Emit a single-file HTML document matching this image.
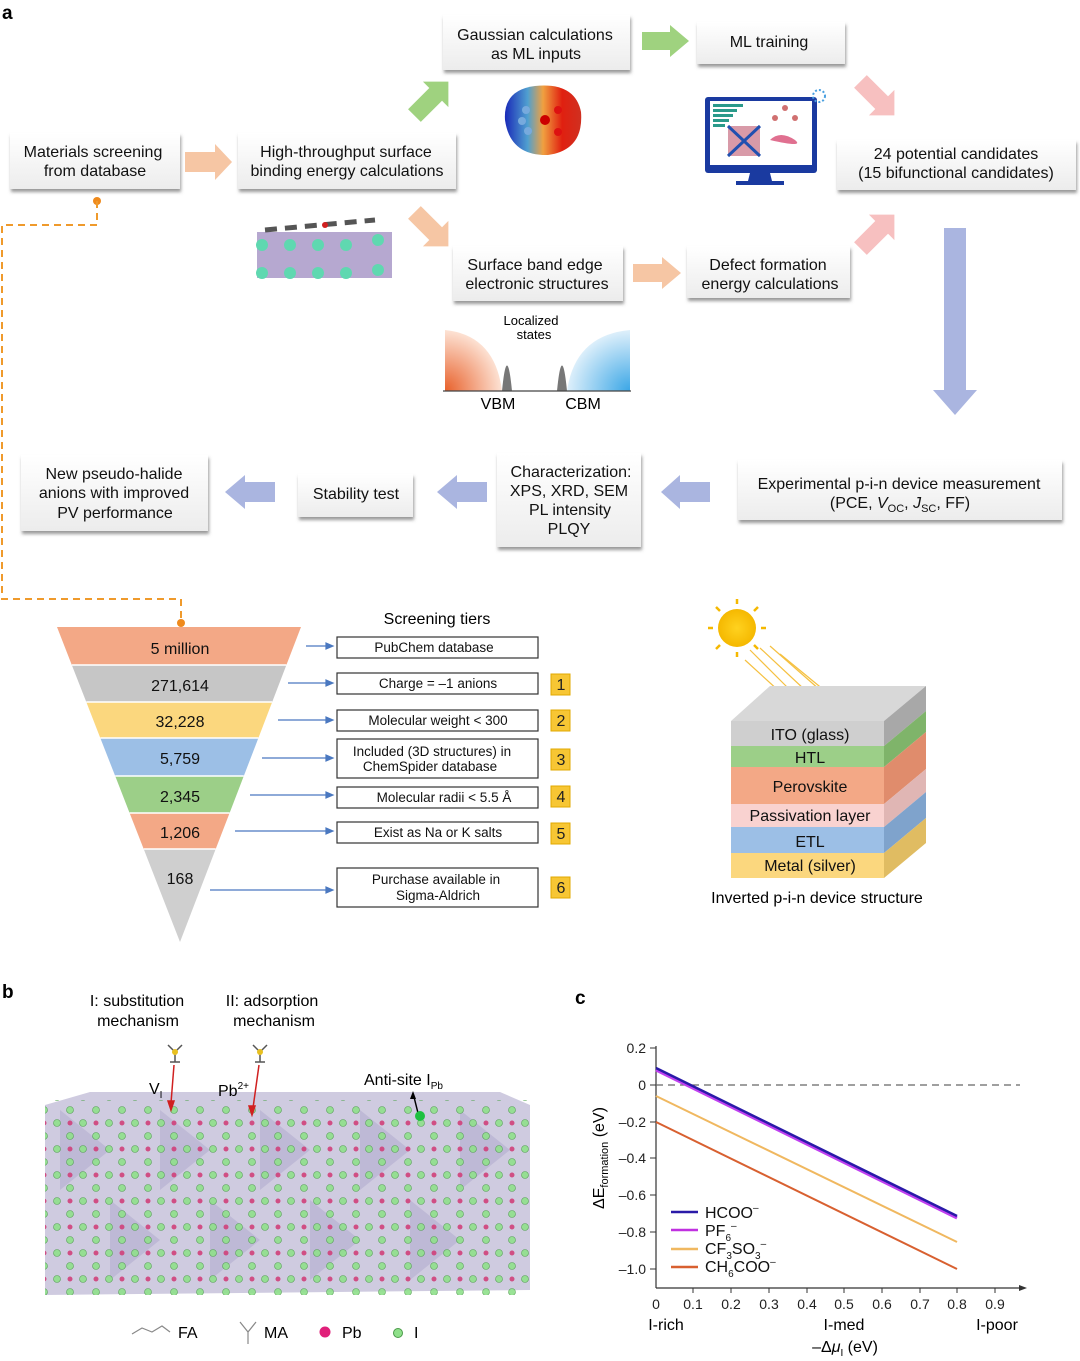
<!DOCTYPE html>
<html><head><meta charset="utf-8">
<style>
html,body{margin:0;padding:0;background:#fff;}
svg{display:block;font-family:"Liberation Sans",sans-serif;}
</style></head><body>
<svg width="1080" height="1361" viewBox="0 0 1080 1361" xmlns="http://www.w3.org/2000/svg">
<defs>
<linearGradient id="bx" x1="0" y1="0" x2="0" y2="1"><stop offset="0" stop-color="#fff"/><stop offset="1" stop-color="#ececec"/></linearGradient>
<filter id="sh" x="-10%" y="-10%" width="120%" height="140%"><feDropShadow dx="1" dy="3" stdDeviation="1.5" flood-color="#555" flood-opacity="0.6"/></filter>
<radialGradient id="vb" cx="0" cy="1" r="1"><stop offset="0" stop-color="#e8602a"/><stop offset="1" stop-color="#fde3d5"/></radialGradient>
<radialGradient id="cb" cx="1" cy="1" r="1"><stop offset="0" stop-color="#3aa6e6"/><stop offset="1" stop-color="#dff0fb"/></radialGradient>
<linearGradient id="mol" x1="0" y1="0" x2="1" y2="0"><stop offset="0" stop-color="#1a2ab8"/><stop offset="0.3" stop-color="#50a0d0"/><stop offset="0.5" stop-color="#f0a040"/><stop offset="0.75" stop-color="#e02010"/><stop offset="1" stop-color="#d03020"/></linearGradient>
<radialGradient id="sun" cx="0.5" cy="0.5" r="0.5"><stop offset="0" stop-color="#ffd21f"/><stop offset="1" stop-color="#f5b800"/></radialGradient>
<pattern id="dots" width="26" height="26" patternUnits="userSpaceOnUse"><circle cx="5" cy="5" r="3.5" fill="#8fe08a" stroke="#4a9a48" stroke-width="0.6"/><circle cx="18" cy="18" r="3.5" fill="#8fe08a" stroke="#4a9a48" stroke-width="0.6"/><circle cx="18" cy="5" r="2.5" fill="#d0407a"/></pattern>
</defs>

<text x="2" y="19" font-size="19" font-weight="bold">a</text>

<g font-size="16" fill="#111" text-anchor="middle">
<rect x="10" y="133" width="170" height="56" fill="url(#bx)" filter="url(#sh)"/>
<text x="93" y="157">Materials screening</text><text x="95" y="176">from database</text>
<rect x="238" y="133" width="218" height="56" fill="url(#bx)" filter="url(#sh)"/>
<text x="346" y="157">High-throughput surface</text><text x="347" y="176">binding energy calculations</text>
<rect x="443" y="15" width="187" height="55" fill="url(#bx)" filter="url(#sh)"/>
<text x="535" y="40">Gaussian calculations</text><text x="536" y="59">as ML inputs</text>
<rect x="697" y="22" width="148" height="42" fill="url(#bx)" filter="url(#sh)"/>
<text x="769" y="47">ML training</text>
<rect x="837" y="140" width="239" height="50" fill="url(#bx)" filter="url(#sh)"/>
<text x="956" y="159">24 potential candidates</text><text x="956" y="178">(15 bifunctional candidates)</text>
<rect x="453" y="246" width="170" height="55" fill="url(#bx)" filter="url(#sh)"/>
<text x="535" y="270">Surface band edge</text><text x="537" y="289">electronic structures</text>
<rect x="687" y="246" width="163" height="52" fill="url(#bx)" filter="url(#sh)"/>
<text x="768" y="270">Defect formation</text><text x="770" y="289">energy calculations</text>
<rect x="738" y="460" width="324" height="60" fill="url(#bx)" filter="url(#sh)"/>
<text x="899" y="489">Experimental p-i-n device measurement</text>
<text x="900" y="508">(PCE, <tspan font-style="italic">V</tspan><tspan font-size="11" dy="4">OC</tspan><tspan dy="-4">, </tspan><tspan font-style="italic">J</tspan><tspan font-size="11" dy="4">SC</tspan><tspan dy="-4">, FF)</tspan></text>
<rect x="497" y="453" width="144" height="94" fill="url(#bx)" filter="url(#sh)"/>
<text x="571" y="477">Characterization:</text><text x="569" y="496">XPS, XRD, SEM</text><text x="570" y="515">PL intensity</text><text x="569" y="534">PLQY</text>
<rect x="298" y="474" width="115" height="43" fill="url(#bx)" filter="url(#sh)"/>
<text x="356" y="499">Stability test</text>
<rect x="21" y="455" width="187" height="76" fill="url(#bx)" filter="url(#sh)"/>
<text x="114" y="479">New pseudo-halide</text><text x="114" y="498">anions with improved</text><text x="115" y="518">PV performance</text>
</g>

<polygon points="185,152 215,152 215,144 232,162 215,180 215,172 185,172" fill="#f6c6a4"/>
<polygon points="642,32 670,32 670,25 689,41 670,57 670,50 642,50" fill="#9fd27f"/>
<polygon points="633,264 662,264 662,257 681,273 662,289 662,282 633,282" fill="#f6c6a4"/>
<g transform="translate(430,100) rotate(-45)"><polygon points="-22,-9 8,-9 8,-18 26,0 8,18 8,9 -22,9" fill="#9fd27f"/></g>
<g transform="translate(430,228) rotate(45)"><polygon points="-22,-9 8,-9 8,-18 26,0 8,18 8,9 -22,9" fill="#f6c6a4"/></g>
<g transform="translate(876,97) rotate(45)"><polygon points="-22,-9 8,-9 8,-18 26,0 8,18 8,9 -22,9" fill="#f7c0c0"/></g>
<g transform="translate(876,233) rotate(-45)"><polygon points="-22,-9 8,-9 8,-18 26,0 8,18 8,9 -22,9" fill="#f7c0c0"/></g>
<polygon points="944,228 966,228 966,390 977,390 955,415 933,390 944,390" fill="#aab5e0"/>
<polygon points="710,482 680,482 680,475 661,492 680,509 680,502 710,502" fill="#aab5e0"/>
<polygon points="487,482 457,482 457,475 437,492 457,509 457,502 487,502" fill="#aab5e0"/>
<polygon points="275,482 245,482 245,475 225,492 245,509 245,502 275,502" fill="#aab5e0"/>

<!-- molecule -->
<path d="M505,120 Q503,90 535,86 Q575,82 581,112 Q584,150 548,155 Q510,156 505,120 Z" fill="url(#mol)"/>
<g fill="#7ad"><circle cx="526" cy="110" r="4"/><circle cx="522" cy="121" r="4"/><circle cx="528" cy="131" r="4"/></g>
<circle cx="545" cy="120" r="5" fill="#c00"/><circle cx="558" cy="110" r="4" fill="#d11"/><circle cx="558" cy="132" r="4" fill="#d11"/>

<!-- monitor -->
<rect x="705" y="97" width="112" height="76" fill="#1a3aa0" rx="3"/>
<rect x="710" y="101" width="102" height="64" fill="#fff"/>
<g fill="#2a9a8a"><rect x="713" y="104" width="30" height="3"/><rect x="713" y="109" width="24" height="3"/><rect x="713" y="114" width="20" height="3"/><rect x="713" y="119" width="16" height="3"/><rect x="713" y="124" width="12" height="3"/></g>
<rect x="728" y="126" width="32" height="30" fill="#d89aa8"/>
<path d="M728,126 L760,156 M760,126 L728,156" stroke="#2050b0" stroke-width="3"/>
<path d="M770,140 q10,-10 25,0 q10,8 -25,0" fill="#e07090"/>
<g fill="#d07070"><circle cx="785" cy="108" r="3"/><circle cx="775" cy="118" r="3"/><circle cx="795" cy="118" r="3"/></g>
<polygon points="750,173 770,173 772,181 748,181" fill="#1a3aa0"/>
<rect x="736" y="181" width="48" height="4" fill="#1a3aa0"/>
<circle cx="819" cy="96" r="6" fill="none" stroke="#4aa0e0" stroke-width="2" stroke-dasharray="2,2"/>

<!-- slab -->
<rect x="257" y="232" width="135" height="46" fill="#b6a8d0"/>
<g fill="#5fd8b0"><circle cx="262" cy="245" r="6"/><circle cx="290" cy="245" r="6"/><circle cx="318" cy="245" r="6"/><circle cx="346" cy="245" r="6"/><circle cx="378" cy="240" r="6"/>
<circle cx="262" cy="273" r="6"/><circle cx="290" cy="273" r="6"/><circle cx="318" cy="273" r="6"/><circle cx="346" cy="273" r="6"/><circle cx="378" cy="270" r="6"/></g>
<path d="M265,230 l110,-10" stroke="#555" stroke-width="5" stroke-dasharray="12,8"/>
<circle cx="325" cy="225" r="3" fill="#d02020"/>

<!-- band edge -->
<path d="M445,391 L445,330 Q495,335 502,391 Z" fill="url(#vb)"/>
<path d="M630,391 L630,330 Q575,335 567,391 Z" fill="url(#cb)"/>
<path d="M502,391 Q507,340 512,391 Z" fill="#777"/>
<path d="M557,391 Q562,340 567,391 Z" fill="#777"/>
<line x1="443" y1="391" x2="631" y2="391" stroke="#444" stroke-width="1.3"/>
<g font-size="13" text-anchor="middle"><text x="531" y="325">Localized</text><text x="534" y="339">states</text></g>
<g font-size="16" text-anchor="middle"><text x="498" y="409">VBM</text><text x="583" y="409">CBM</text></g>

<circle cx="97" cy="201" r="4" fill="#ef8a1c"/>
<path d="M97,201 V225 H2 V599 H181 V622" fill="none" stroke="#ef9a2c" stroke-width="2" stroke-dasharray="7,5"/>
<circle cx="181" cy="623" r="4" fill="#ef8a1c"/>

<!-- funnel -->
<polygon points="57,627 301,627 286.4,665 71.8,665" fill="#f3a886"/>
<polygon points="71.8,665 286.4,665 272.2,702 86.3,702" fill="#c6c6c6"/>
<polygon points="86.3,702 272.2,702 258.4,738 100.3,738" fill="#fbd77e"/>
<polygon points="100.3,738 258.4,738 243.8,776 115.2,776" fill="#9cbfe6"/>
<polygon points="115.2,776 243.8,776 229.6,813 129.6,813" fill="#9ccf88"/>
<polygon points="129.6,813 229.6,813 215.7,849 143.7,849" fill="#f3a886"/>
<polygon points="143.7,849 215.7,849 180,942" fill="#cfcfcf"/>
<g stroke="#fff" stroke-width="1.5"><line x1="71.8" y1="665" x2="286.4" y2="665"/><line x1="86.3" y1="702" x2="272.2" y2="702"/><line x1="100.3" y1="738" x2="258.4" y2="738"/><line x1="115.2" y1="776" x2="243.8" y2="776"/><line x1="129.6" y1="813" x2="229.6" y2="813"/><line x1="143.7" y1="849" x2="215.7" y2="849"/></g>
<g font-size="16" text-anchor="middle" fill="#111"><text x="180" y="654">5 million</text><text x="180" y="691">271,614</text><text x="180" y="727">32,228</text><text x="180" y="764">5,759</text><text x="180" y="802">2,345</text><text x="180" y="838">1,206</text><text x="180" y="884">168</text></g>

<text x="437" y="624" font-size="16" text-anchor="middle">Screening tiers</text>
<g stroke="#4a78c0" stroke-width="1.2" fill="#4a78c0">
<line x1="306" y1="646" x2="328" y2="646"/><polygon points="333,646 326,643 326,649"/>
<line x1="288" y1="683" x2="328" y2="683"/><polygon points="333,683 326,680 326,686"/>
<line x1="278" y1="720" x2="328" y2="720"/><polygon points="333,720 326,717 326,723"/>
<line x1="262" y1="758" x2="328" y2="758"/><polygon points="333,758 326,755 326,761"/>
<line x1="250" y1="795" x2="328" y2="795"/><polygon points="333,795 326,792 326,798"/>
<line x1="235" y1="831" x2="328" y2="831"/><polygon points="333,831 326,828 326,834"/>
<line x1="210" y1="890" x2="328" y2="890"/><polygon points="333,890 326,887 326,893"/>
</g>
<g fill="#fff" stroke="#333" stroke-width="1.2">
<rect x="337" y="637" width="201" height="21"/><rect x="337" y="673" width="201" height="21"/><rect x="337" y="710" width="201" height="21"/><rect x="337" y="739" width="201" height="39"/><rect x="337" y="787" width="201" height="21"/><rect x="337" y="822" width="201" height="21"/><rect x="337" y="868" width="201" height="39"/>
</g>
<g font-size="13.5" text-anchor="middle" fill="#111">
<text x="434" y="652">PubChem database</text><text x="438" y="688">Charge = –1 anions</text><text x="438" y="725">Molecular weight &lt; 300</text>
<text x="432" y="756">Included (3D structures) in</text><text x="430" y="771">ChemSpider database</text>
<text x="444" y="802">Molecular radii &lt; 5.5 Å</text><text x="438" y="837">Exist as Na or K salts</text>
<text x="436" y="884">Purchase available in</text><text x="438" y="900">Sigma-Aldrich</text>
</g>
<g fill="#f7c634" stroke="#e0a800"><rect x="551" y="674" width="19" height="21"/><rect x="551" y="710" width="19" height="21"/><rect x="551" y="749" width="19" height="21"/><rect x="551" y="786" width="19" height="21"/><rect x="551" y="823" width="19" height="21"/><rect x="551" y="877" width="19" height="21"/></g>
<g font-size="16" text-anchor="middle" fill="#222"><text x="561" y="690">1</text><text x="561" y="726">2</text><text x="561" y="765">3</text><text x="561" y="802">4</text><text x="561" y="839">5</text><text x="561" y="893">6</text></g>

<circle cx="737" cy="628" r="19" fill="url(#sun)"/>
<g stroke="#f5b800" stroke-width="2.5">
<line x1="737" y1="599" x2="737" y2="604"/><line x1="737" y1="652" x2="737" y2="657"/><line x1="708" y1="628" x2="713" y2="628"/><line x1="761" y1="628" x2="766" y2="628"/>
<line x1="716" y1="607" x2="720" y2="611"/><line x1="754" y1="645" x2="758" y2="649"/><line x1="758" y1="607" x2="754" y2="611"/><line x1="716" y1="649" x2="720" y2="645"/>
</g>
<g stroke="#f5c040" stroke-width="1.2"><line x1="750" y1="650" x2="790" y2="690"/><line x1="760" y1="648" x2="805" y2="690"/><line x1="770" y1="646" x2="820" y2="690"/><line x1="780" y1="654" x2="830" y2="695"/><line x1="745" y1="660" x2="780" y2="692"/></g>

<polygon points="731,721 770,686 926,686 884,721" fill="#d8d8d8"/>
<rect x="731" y="721" width="153" height="25" fill="#cfcfcf"/>
<rect x="731" y="746" width="153" height="21" fill="#9ccf88"/>
<rect x="731" y="767" width="153" height="37" fill="#f3a886"/>
<rect x="731" y="804" width="153" height="23" fill="#f9d2d0"/>
<rect x="731" y="827" width="153" height="26" fill="#9cbfe6"/>
<rect x="731" y="853" width="153" height="25" fill="#fbd77e"/>
<polygon points="884,721 926,686 926,711 884,746" fill="#a8a8a8"/>
<polygon points="884,746 926,711 926,732 884,767" fill="#7fb46a"/>
<polygon points="884,767 926,732 926,769 884,804" fill="#e08c6c"/>
<polygon points="884,804 926,769 926,792 884,827" fill="#e0b6b4"/>
<polygon points="884,827 926,792 926,818 884,853" fill="#7fa3cc"/>
<polygon points="884,853 926,818 926,843 884,878" fill="#e0bc62"/>
<g font-size="16" text-anchor="middle" fill="#111"><text x="810" y="740">ITO (glass)</text><text x="810" y="763">HTL</text><text x="810" y="792">Perovskite</text><text x="810" y="821">Passivation layer</text><text x="810" y="847">ETL</text><text x="810" y="871">Metal (silver)</text></g>
<text x="817" y="903" font-size="16" text-anchor="middle">Inverted p-i-n device structure</text>

<!-- panel b -->
<text x="2" y="998" font-size="19" font-weight="bold">b</text>
<g font-size="16" text-anchor="middle"><text x="137" y="1006">I: substitution</text><text x="138" y="1026">mechanism</text><text x="272" y="1006">II: adsorption</text><text x="274" y="1026">mechanism</text></g>
<polygon points="45,1105 90,1092 500,1092 530,1105 530,1290 45,1295" fill="#cfcbe0"/>
<g fill="#b8b2d2" opacity="0.7"><polygon points="60,1110 110,1150 60,1190"/><polygon points="160,1110 210,1150 160,1190"/><polygon points="260,1110 310,1150 260,1190"/><polygon points="360,1110 410,1150 360,1190"/><polygon points="460,1110 510,1150 460,1190"/><polygon points="110,1200 160,1240 110,1280"/><polygon points="210,1200 260,1240 210,1280"/><polygon points="310,1200 360,1240 310,1280"/><polygon points="410,1200 460,1240 410,1280"/></g>
<rect x="45" y="1100" width="485" height="195" fill="url(#dots)" opacity="0.9"/>
<g stroke="#555" stroke-width="1.5" fill="none"><path d="M168,1045 l7,7 l7,-7 M175,1052 v10 M170,1062 h10"/><path d="M253,1045 l7,7 l7,-7 M260,1052 v10 M255,1062 h10"/></g>
<g fill="#e8c020"><circle cx="175" cy="1052" r="3"/><circle cx="260" cy="1052" r="3"/></g>
<g stroke="#d02020" stroke-width="1.5" fill="#d02020"><line x1="174" y1="1065" x2="171" y2="1103"/><polygon points="171,1110 168,1101 174,1101"/><line x1="259" y1="1065" x2="253" y2="1108"/><polygon points="252,1115 249,1106 255,1106"/></g>
<g font-size="16"><text x="149" y="1094">V<tspan font-size="10" dy="4">I</tspan></text><text x="218" y="1096">Pb<tspan font-size="10" dy="-7">2+</tspan></text><text x="364" y="1085">Anti-site I<tspan font-size="10" dy="4">Pb</tspan></text></g>
<line x1="418" y1="1113" x2="414" y2="1097" stroke="#000" stroke-width="1.5"/><polygon points="413,1091 410,1099 416,1099" fill="#000"/>
<circle cx="420" cy="1116" r="5" fill="#1ec040"/>
<g font-size="16"><text x="178" y="1338">FA</text><text x="264" y="1338">MA</text><text x="342" y="1338">Pb</text><text x="414" y="1338">I</text></g>
<g stroke="#888" stroke-width="1.2" fill="none"><path d="M132,1334 l10,-6 l10,4 l10,-6 l8,6"/><path d="M240,1322 l8,10 l8,-10 M248,1332 v12"/></g>
<circle cx="325" cy="1332" r="5.5" fill="#e0207a"/>
<circle cx="398" cy="1333" r="4.5" fill="#8fe08a" stroke="#4a9a48"/>

<!-- panel c -->
<text x="575" y="1004" font-size="19" font-weight="bold">c</text>
<g stroke="#333" stroke-width="1.2" fill="none">
<line x1="656" y1="1046" x2="656" y2="1288"/><line x1="656" y1="1288" x2="1022" y2="1288"/>
</g>
<polygon points="1027,1288 1019,1285 1019,1291" fill="#333"/>
<line x1="656" y1="1085" x2="1020" y2="1085" stroke="#666" stroke-width="1.3" stroke-dasharray="7,5"/>
<g stroke="#333" stroke-width="1"><line x1="650" y1="1048" x2="656" y2="1048"/><line x1="650" y1="1085" x2="656" y2="1085"/><line x1="650" y1="1122" x2="656" y2="1122"/><line x1="650" y1="1158" x2="656" y2="1158"/><line x1="650" y1="1195" x2="656" y2="1195"/><line x1="650" y1="1232" x2="656" y2="1232"/><line x1="650" y1="1269" x2="656" y2="1269"/>
<line x1="693" y1="1288" x2="693" y2="1293"/><line x1="731" y1="1288" x2="731" y2="1293"/><line x1="769" y1="1288" x2="769" y2="1293"/><line x1="807" y1="1288" x2="807" y2="1293"/><line x1="844" y1="1288" x2="844" y2="1293"/><line x1="882" y1="1288" x2="882" y2="1293"/><line x1="920" y1="1288" x2="920" y2="1293"/><line x1="957" y1="1288" x2="957" y2="1293"/><line x1="995" y1="1288" x2="995" y2="1293"/></g>
<g font-size="14" text-anchor="end" fill="#222"><text x="646" y="1053">0.2</text><text x="646" y="1090">0</text><text x="646" y="1127">–0.2</text><text x="646" y="1163">–0.4</text><text x="646" y="1200">–0.6</text><text x="646" y="1237">–0.8</text><text x="646" y="1274">–1.0</text></g>
<g font-size="14" text-anchor="middle" fill="#222"><text x="656" y="1309">0</text><text x="693" y="1309">0.1</text><text x="731" y="1309">0.2</text><text x="769" y="1309">0.3</text><text x="807" y="1309">0.4</text><text x="844" y="1309">0.5</text><text x="882" y="1309">0.6</text><text x="920" y="1309">0.7</text><text x="957" y="1309">0.8</text><text x="995" y="1309">0.9</text></g>
<g font-size="16" text-anchor="middle"><text x="666" y="1330">I-rich</text><text x="844" y="1330">I-med</text><text x="997" y="1330">I-poor</text><text x="845" y="1352">–Δ<tspan font-style="italic">μ</tspan><tspan font-size="10" dy="4">I</tspan><tspan dy="-4"> (eV)</tspan></text></g>
<text transform="translate(604,1158) rotate(-90)" font-size="16" text-anchor="middle">ΔE<tspan font-size="11" dy="4">formation</tspan><tspan dy="-4"> (eV)</tspan></text>
<line x1="656" y1="1070" x2="957" y2="1218" stroke="#c040f0" stroke-width="3"/>
<line x1="656" y1="1068" x2="957" y2="1216" stroke="#2a1aa8" stroke-width="2.5"/>
<line x1="656" y1="1096" x2="957" y2="1242" stroke="#f0b860" stroke-width="2"/>
<line x1="656" y1="1122" x2="957" y2="1269" stroke="#d86030" stroke-width="2"/>
<g stroke-width="2.5"><line x1="671" y1="1212" x2="698" y2="1212" stroke="#2a1aa8"/><line x1="671" y1="1230" x2="698" y2="1230" stroke="#c030e0"/><line x1="671" y1="1249" x2="698" y2="1249" stroke="#f0b860"/><line x1="671" y1="1267" x2="698" y2="1267" stroke="#d86030"/></g>
<g font-size="16" fill="#111"><text x="705" y="1218">HCOO<tspan font-size="10" dy="-7">–</tspan></text><text x="705" y="1236">PF<tspan font-size="10" dy="5">6</tspan><tspan font-size="10" dy="-12">–</tspan></text><text x="705" y="1254">CF<tspan font-size="10" dy="5">3</tspan><tspan dy="-5">SO</tspan><tspan font-size="10" dy="5">3</tspan><tspan font-size="10" dy="-12">–</tspan></text><text x="705" y="1272">CH<tspan font-size="10" dy="5">6</tspan><tspan dy="-5">COO</tspan><tspan font-size="10" dy="-7">–</tspan></text></g>
</svg>
</body></html>
